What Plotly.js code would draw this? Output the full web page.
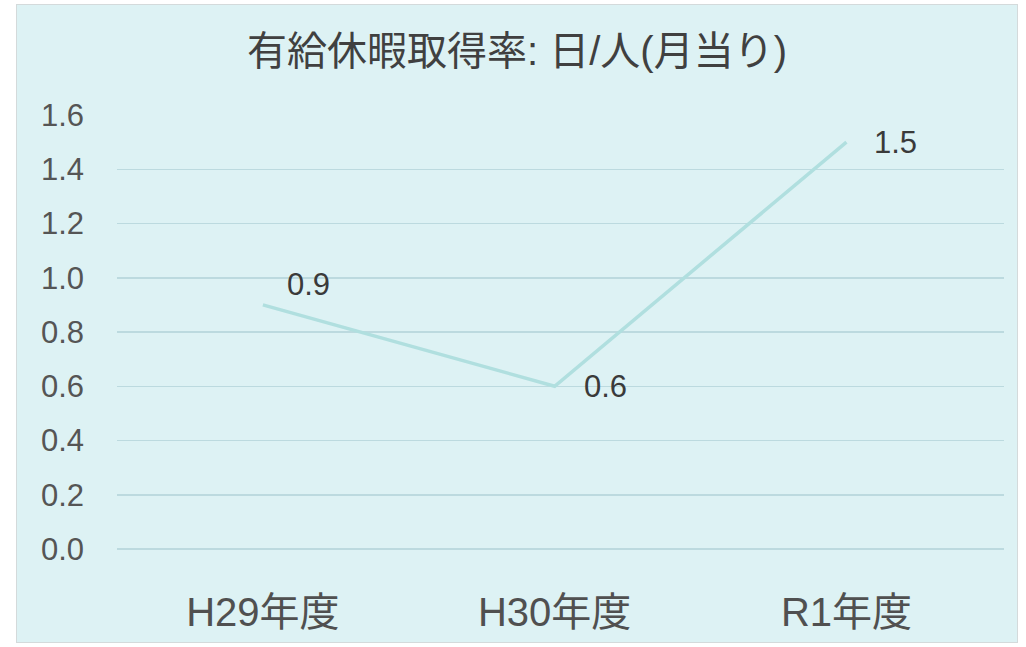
<!DOCTYPE html>
<html>
<head>
<meta charset="utf-8">
<script src="https://cdn.plot.ly/plotly-3.0.1.min.js"></script>
<style>
  html, body { margin: 0; padding: 0; background: #ffffff; width: 1026px; height: 647px; overflow: hidden; }
  #chart { position: absolute; left: 16px; top: 4px; width: 1002px; height: 639px; border: 1px solid #d4dadb; box-sizing: border-box; }
</style>
</head>
<body>
<div id="chart"></div>
<script>
const categories = ["H29年度", "H30年度", "R1年度"];
const values = [0.9, 0.6, 1.5];
const valueLabels = ["0.9", "0.6", "1.5"];
const yTickVals = [0.0, 0.2, 0.4, 0.6, 0.8, 1.0, 1.2, 1.4, 1.6];
const yTickText = ["0.0", "0.2", "0.4", "0.6", "0.8", "1.0", "1.2", "1.4", "1.6"];
const titleText = "有給休暇取得率: 日/人(月当り)";

// label offsets (style only)
const labelShiftX = [22, 27, 26];
const labelShiftY = [20, 0, 0];

const FONT = "Liberation Sans, Arial, 'Noto Sans CJK JP', sans-serif";

const trace = {
  type: "scatter",
  mode: "lines",
  x: categories,
  y: values,
  line: { color: "#b0dfdf", width: 3.5 },
  hoverinfo: "none"
};

const annotations = categories.map((c, i) => ({
  x: c, y: values[i], xref: "x", yref: "y",
  text: valueLabels[i], showarrow: false,
  xanchor: "left", yanchor: "middle",
  xshift: labelShiftX[i], yshift: labelShiftY[i],
  font: { family: FONT, size: 31, color: "#3a3a3a" }
}));

const layout = {
  width: 1000, height: 637,
  paper_bgcolor: "#ddf2f4",
  plot_bgcolor: "#ddf2f4",
  margin: { l: 100, r: 13, t: 110, b: 93 },
  showlegend: false,
  title: {
    text: titleText,
    font: { family: FONT, size: 40, color: "#404040" },
    x: 0.5, xanchor: "center", xref: "container",
    y: 1 - 46 / 637, yanchor: "middle", yref: "container"
  },
  xaxis: {
    type: "category",
    range: [-0.5, 2.54],
    showgrid: false, zeroline: false, showline: false,
    ticks: "",
    tickfont: { family: FONT, size: 40, color: "#505050" },
    ticklabelstandoff: 36,
    fixedrange: true
  },
  yaxis: {
    range: [0, 1.6],
    tickvals: yTickVals, ticktext: yTickText,
    showgrid: true, gridcolor: "#bcdadf", gridwidth: 1.5,
    zeroline: true, zerolinecolor: "#bcdadf", zerolinewidth: 1.5,
    showline: false, ticks: "",
    tickfont: { family: FONT, size: 31, color: "#555555" },
    ticklabelstandoff: 32,
    fixedrange: true
  },
  annotations: annotations
};

Plotly.newPlot("chart", [trace], layout, { displayModeBar: false, staticPlot: true });
</script>
</body>
</html>
